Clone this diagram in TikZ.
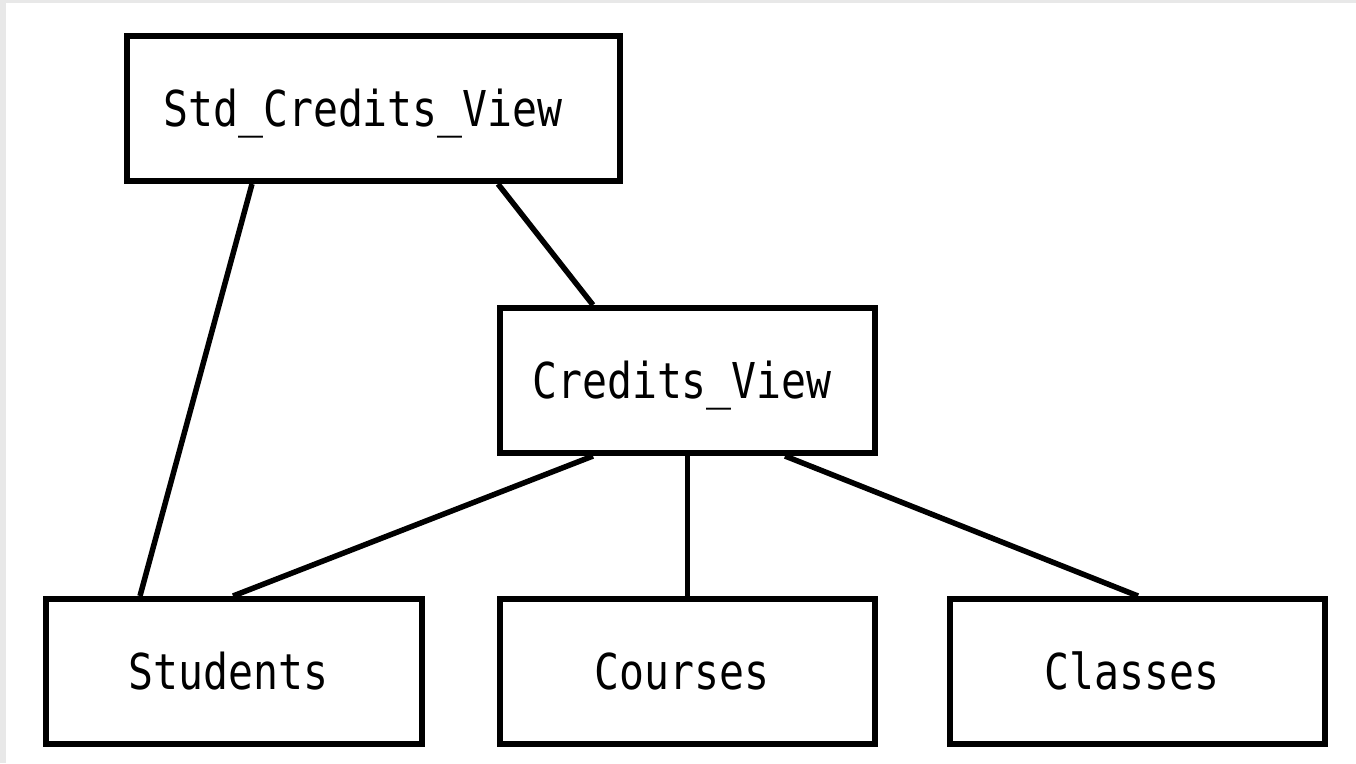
\documentclass[tikz,border=0pt]{standalone}
\usepackage{fontspec}
% narrow monospaced lettering for the table names
\newfontfamily\boxfont[FakeStretch=0.84]{DejaVu Sans Mono}
\begin{document}
\begin{tikzpicture}[x=1pt,y=-1pt,
  tbl/.style={draw=black, line width=6pt, rectangle, inner sep=0pt,
    minimum height=145pt, minimum width=375pt,
    text height=36pt, text depth=0pt,
    font=\boxfont\fontsize{49.4pt}{52pt}\selectfont,
    execute at end node=\kern11pt},
  link/.style={draw=black, line width=5.5pt}]
  % page background with the thin grey frame at top and left
  \fill[gray!18] (0,0) rectangle (1356,763);
  \fill[white] (6,3) rectangle (1356,763);
  \useasboundingbox (0,0) rectangle (1356,763);

  % tables and views
  \node[tbl, minimum width=493pt, execute at end node=\kern10pt] (std) at (373.5,108.5) {Std\_Credits\_View};
  \node[tbl] (credits) at (687.5,380.5) {Credits\_View};
  \node[tbl, minimum width=376pt] (students) at (234,671.5) {Students};
  \node[tbl] (courses) at (687.5,671.5) {Courses};
  \node[tbl] (classes) at (1137.5,671.5) {Classes};

  % dependencies
  \draw[link] ([xshift=-121.5pt]std.south) -- ([xshift=-94pt]students.north);
  \draw[link] ([xshift=124.5pt]std.south) -- ([xshift=-94.5pt]credits.north);
  \draw[link] ([xshift=-94.5pt]credits.south) -- ([xshift=-1pt]students.north);
  \draw[link] (credits.south) -- (courses.north);
  \draw[link] ([xshift=97.5pt]credits.south) -- ([xshift=0.5pt]classes.north);
\end{tikzpicture}
\end{document}
